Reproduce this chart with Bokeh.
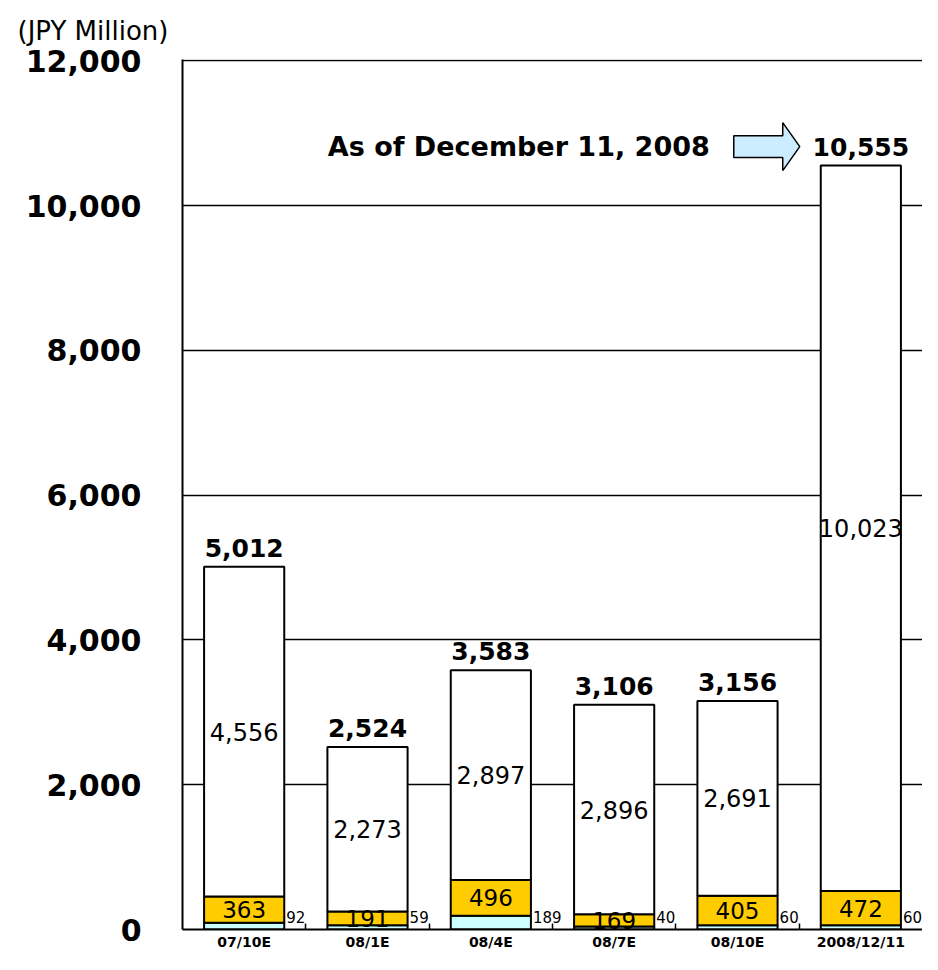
from bokeh.plotting import figure
from bokeh.models import Range1d, FixedTicker, ColumnDataSource, NumeralTickFormatter
from bokeh.core.properties import value
from bokeh.embed import file_html
from bokeh.resources import INLINE

# ---- data (JPY Million) ----
categories = ["07/10E", "08/1E", "08/4E", "08/7E", "08/10E", "2008/12/11"]
others = [92, 59, 189, 40, 60, 60]            # light cyan (bottom)
middle_series = [363, 191, 496, 169, 405, 472]  # yellow
main_series = [4556, 2273, 2897, 2896, 2691, 10023]  # white (top)
totals = [5012, 2524, 3583, 3106, 3156, 10555]
y_ticks = [0, 2000, 4000, 6000, 8000, 10000, 12000]
y_unit_label = "(JPY Million)"
annotation_text = "As of December 11, 2008"

# ---- layout ----
W, H = 922, 954
LEFT, TOP, BOTTOM, RIGHT = 182, 59, 25, 0
Y_MAX = 12000
n = len(categories)
FRAME_W = W - LEFT - RIGHT
FRAME_H = H - TOP - BOTTOM
PX_X = n / FRAME_W       # data units per pixel (x)
PX_Y = Y_MAX / FRAME_H   # data units per pixel (y)
BAR_W = 0.65
FONT = value("DejaVu Sans")

centers = [i + 0.5 for i in range(n)]
bottom1 = [0] * n
top1 = others
bottom2 = top1
top2 = [a + b for a, b in zip(others, middle_series)]
bottom3 = top2
top3 = [a + b for a, b in zip(top2, main_series)]

p = figure(width=W, height=H, x_range=Range1d(0, n),
           y_range=Range1d(0, Y_MAX + 1.5 * PX_Y),
           output_backend="svg", toolbar_location=None,
           min_border_left=LEFT, min_border_top=TOP, min_border_bottom=BOTTOM,
           min_border_right=RIGHT)
p.outline_line_color = None
p.background_fill_color = "white"
p.border_fill_color = "white"

# unit label as a left-aligned title above the frame
p.title.text = y_unit_label
p.title.align = "left"
p.title.vertical_align = "top"
p.title.offset = -(LEFT - 17)
p.title.standoff = 24
p.title.text_font = "DejaVu Sans"
p.title.text_font_style = "normal"
p.title.text_font_size = "26px"
p.title.text_color = "black"

# axes
p.xaxis.ticker = FixedTicker(ticks=centers, minor_ticks=list(range(1, n)))
p.xaxis.major_label_overrides = {c: lab for c, lab in zip(centers, categories)}
p.xaxis.axis_line_width = 2
p.xaxis.axis_line_color = "black"
p.xaxis.major_tick_line_color = None
p.xaxis.major_tick_in = 0
p.xaxis.major_tick_out = 0
p.xaxis.minor_tick_in = 6
p.xaxis.minor_tick_out = 0
p.xaxis.minor_tick_line_width = 1.5
p.xaxis.minor_tick_line_color = "black"
p.xaxis.major_label_standoff = 4
p.xaxis.major_label_text_font = "DejaVu Sans"
p.xaxis.major_label_text_font_style = "bold"
p.xaxis.major_label_text_font_size = "14px"
p.xaxis.major_label_text_color = "black"

p.yaxis.ticker = FixedTicker(ticks=y_ticks)
p.yaxis.formatter = NumeralTickFormatter(format="0,0")
p.yaxis.axis_line_width = 2
p.yaxis.axis_line_color = "black"
p.yaxis.major_tick_in = 0
p.yaxis.major_tick_out = 0
p.yaxis.minor_tick_line_color = None
p.yaxis.major_label_standoff = 41
p.yaxis.major_label_text_font = "DejaVu Sans"
p.yaxis.major_label_text_font_style = "bold"
p.yaxis.major_label_text_font_size = "30px"
p.yaxis.major_label_text_color = "black"

p.xgrid.grid_line_color = None
p.ygrid.ticker = FixedTicker(ticks=y_ticks)
p.ygrid.grid_line_color = "black"
p.ygrid.grid_line_width = 1.5

# stacked bars
p.vbar(x=centers, width=BAR_W, bottom=bottom1, top=top1,
       fill_color="#CCFFFF", line_color="black", line_width=2)
p.vbar(x=centers, width=BAR_W, bottom=bottom2, top=top2,
       fill_color="#FFCC00", line_color="black", line_width=2)
p.vbar(x=centers, width=BAR_W, bottom=bottom3, top=top3,
       fill_color="white", line_color="black", line_width=2)

# segment labels
white_src = ColumnDataSource(dict(
    x=centers, y=[(b + t) / 2 for b, t in zip(bottom3, top3)],
    t=[f"{v:,}" for v in main_series]))
p.text(x="x", y="y", text="t", source=white_src, text_font=FONT,
       text_font_size="24px", text_align="center", text_baseline="middle",
       text_color="black")

yel_src = ColumnDataSource(dict(
    x=centers, y=[(b + t) / 2 for b, t in zip(bottom2, top2)],
    t=[f"{v:,}" for v in middle_series]))
p.text(x="x", y="y", text="t", source=yel_src, text_font=FONT,
       text_font_size="23px", text_align="center", text_baseline="middle",
       text_color="black")

oth_src = ColumnDataSource(dict(
    x=[c + BAR_W / 2 + 2 * PX_X for c in centers], y=[13 * PX_Y] * n,
    t=[f"{v:,}" for v in others]))
p.text(x="x", y="y", text="t", source=oth_src, text_font=FONT,
       text_font_size="15px", text_align="left", text_baseline="middle",
       text_color="black")

tot_src = ColumnDataSource(dict(
    x=centers, y=[t + 19 * PX_Y for t in totals],
    t=[f"{v:,}" for v in totals]))
p.text(x="x", y="y", text="t", source=tot_src, text_font=FONT,
       text_font_size="25px", text_font_style="bold", text_align="center",
       text_baseline="middle", text_color="black")

# arrow annotation pointing at last bar
bar_left = centers[-1] - BAR_W / 2
cy = totals[-1] + 19 * PX_Y
tip = bar_left - 21 * PX_X
head_base = bar_left - 38 * PX_X
body_left = bar_left - 87 * PX_X
bh = 11 * PX_Y
hh = 24 * PX_Y
p.patch(x=[body_left, head_base, head_base, tip, head_base, head_base, body_left],
        y=[cy - bh, cy - bh, cy - hh, cy, cy + hh, cy + bh, cy + bh],
        fill_color="#CCECFF", line_color="black", line_width=1.5)
p.text(x=[body_left - 24 * PX_X], y=[cy], text=[annotation_text], text_font=FONT,
       text_font_size="27px", text_font_style="bold", text_align="right",
       text_baseline="middle", text_color="black")

open("out.html", "w").write(file_html(p, INLINE))
